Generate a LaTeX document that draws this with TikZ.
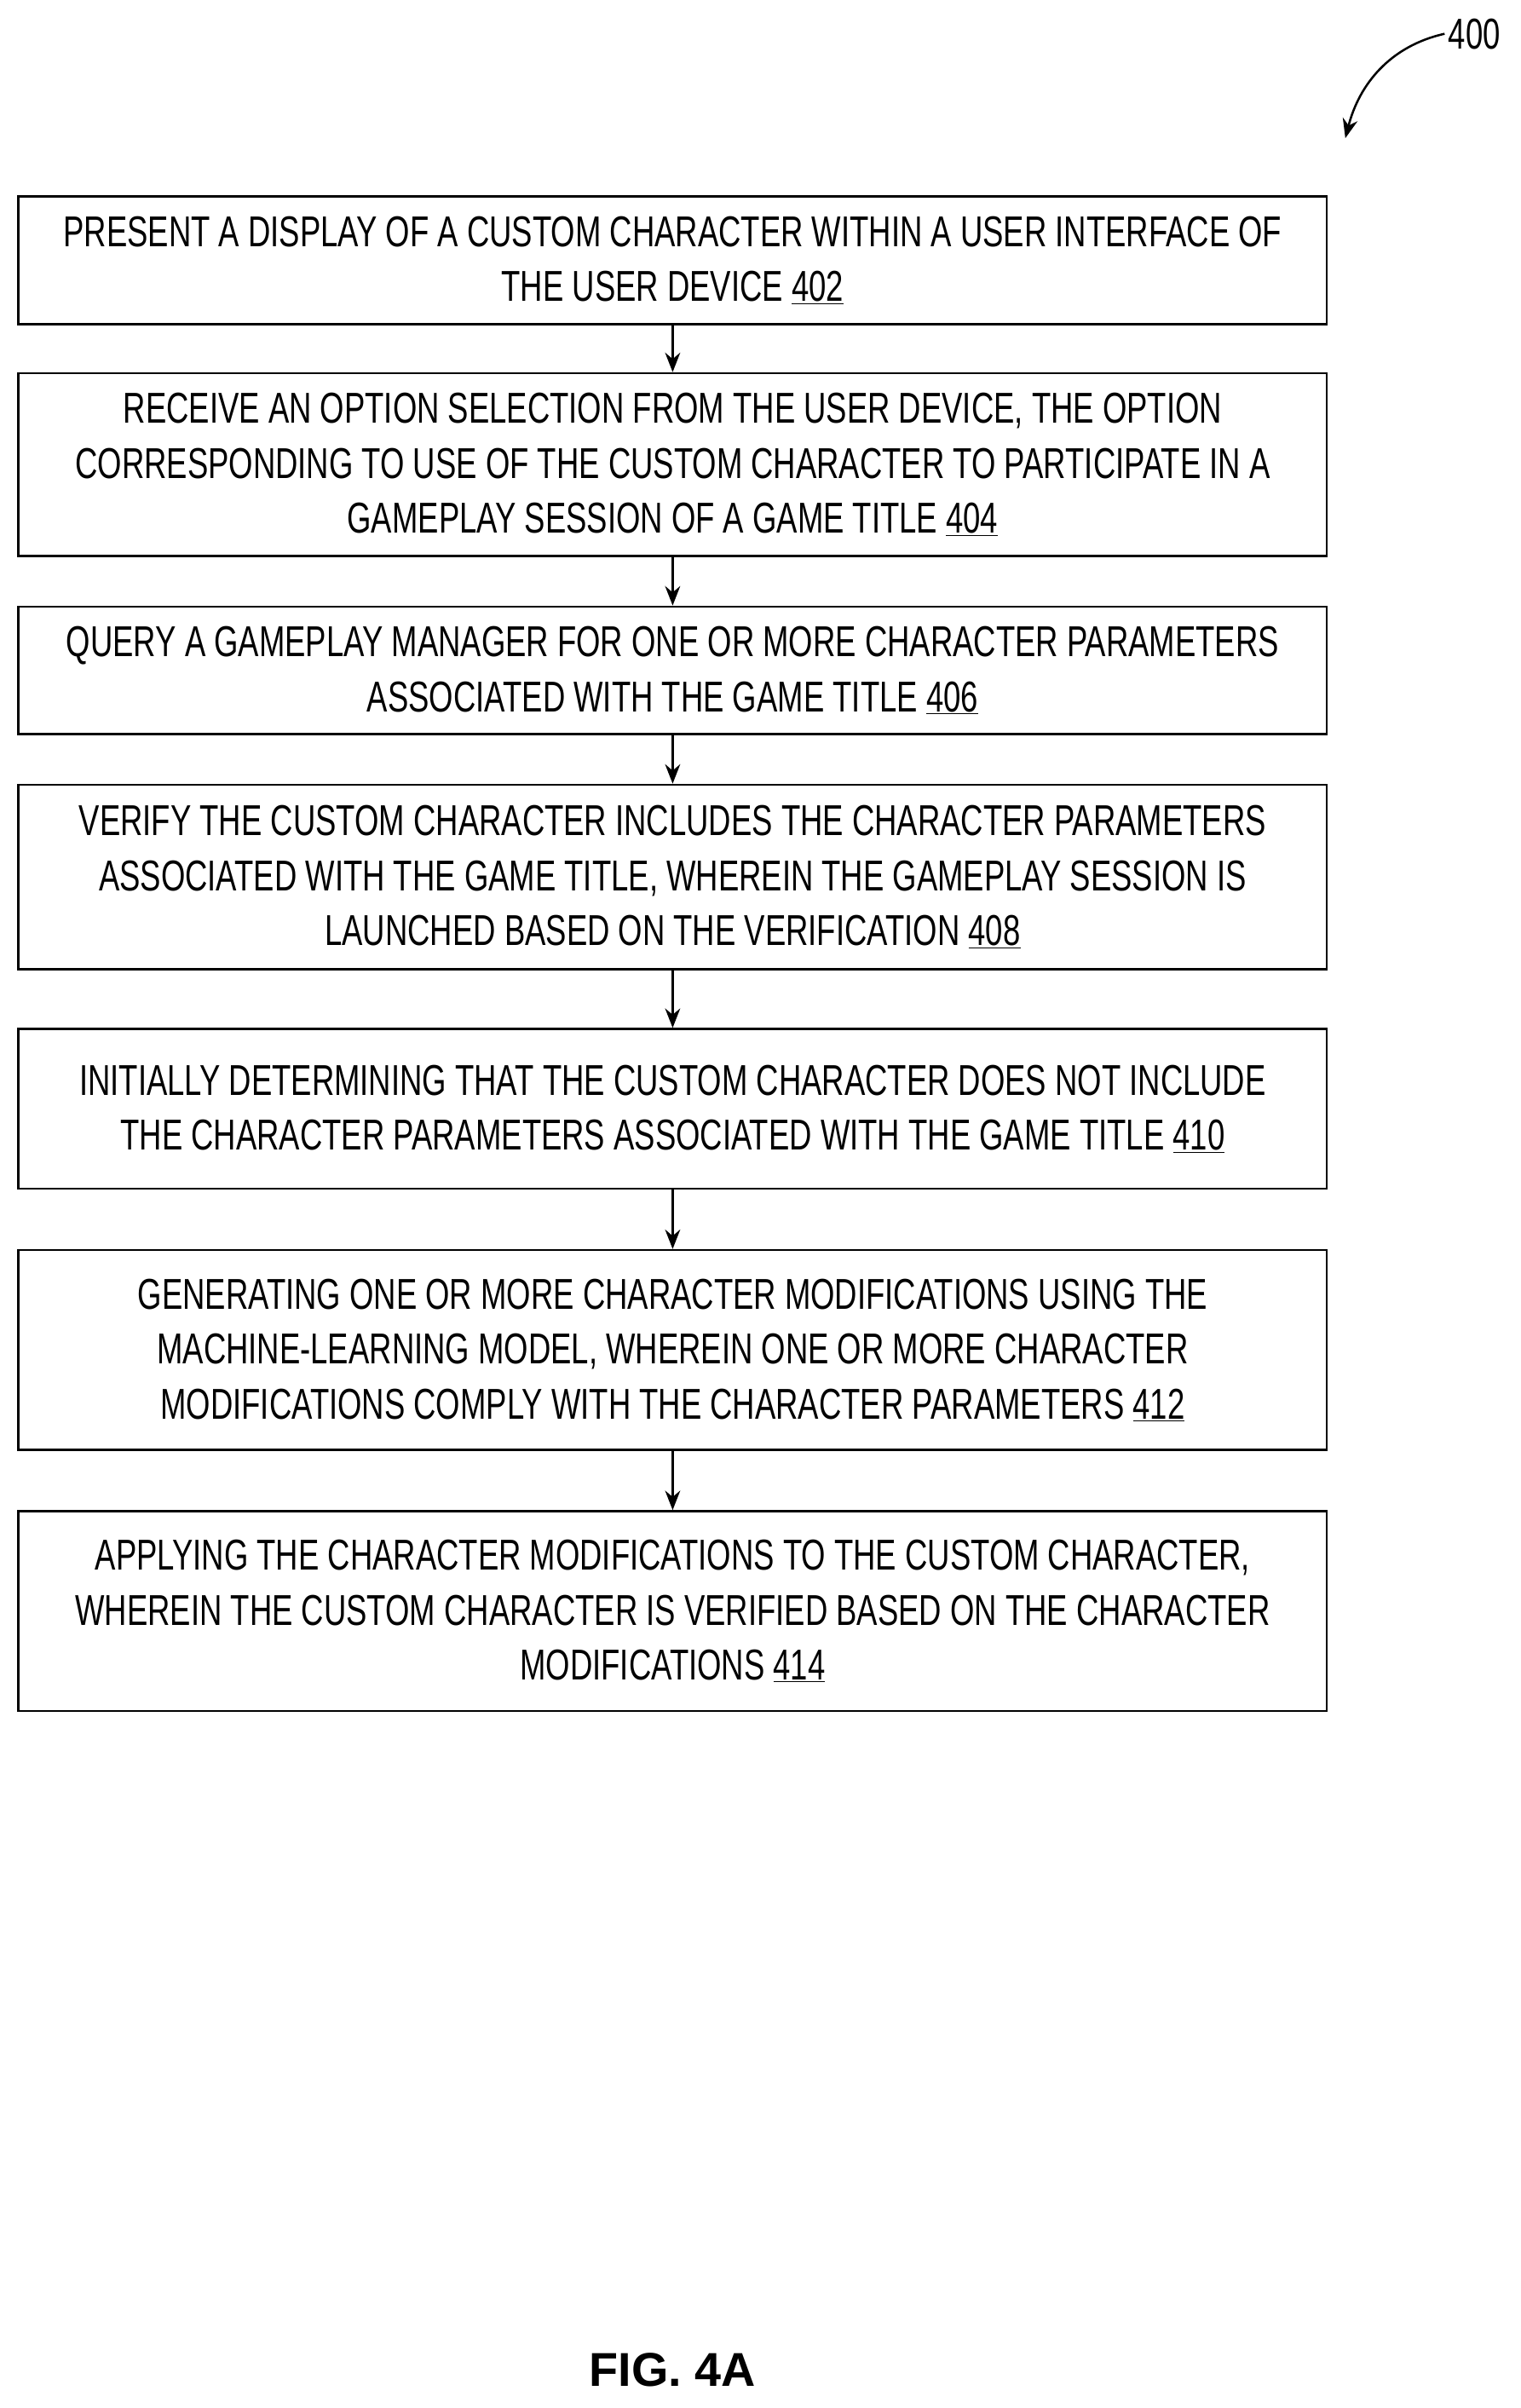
\documentclass[tikz,border=0pt]{standalone}
\usepackage{fontspec}
\setmainfont{Liberation Sans}[FakeStretch=0.72]
\newfontfamily\figfont{Liberation Sans}
\usetikzlibrary{arrows.meta}
\begin{document}
\begin{tikzpicture}[x=0.05cm,y=-0.05cm,
  stepbox/.style={draw,line width=2pt,minimum width=42.6cm,inner sep=0pt,align=center,font=\fontsize{40}{51}\selectfont},
  flow/.style={-{Stealth[length=18pt,width=14pt]},line width=2pt}]
\useasboundingbox (0,0) rectangle (990,1568);
\node[stepbox,minimum height=4.15cm] (b1) at (438,169.5) {PRESENT A DISPLAY OF A CUSTOM CHARACTER WITHIN A USER INTERFACE OF\\THE USER DEVICE \underline{402}};
\node[stepbox,minimum height=5.95cm] (b2) at (438,302.5) {RECEIVE AN OPTION SELECTION FROM THE USER DEVICE, THE OPTION\\CORRESPONDING TO USE OF THE CUSTOM CHARACTER TO PARTICIPATE IN A\\GAMEPLAY SESSION OF A GAME TITLE \underline{404}};
\node[stepbox,minimum height=4.15cm] (b3) at (438,436.5) {QUERY A GAMEPLAY MANAGER FOR ONE OR MORE CHARACTER PARAMETERS\\ASSOCIATED WITH THE GAME TITLE \underline{406}};
\node[stepbox,minimum height=6cm] (b4) at (438,571) {VERIFY THE CUSTOM CHARACTER INCLUDES THE CHARACTER PARAMETERS\\ASSOCIATED WITH THE GAME TITLE, WHEREIN THE GAMEPLAY SESSION IS\\LAUNCHED BASED ON THE VERIFICATION \underline{408}};
\node[stepbox,minimum height=5.2cm] (b5) at (438,722) {INITIALLY DETERMINING THAT THE CUSTOM CHARACTER DOES NOT INCLUDE\\THE CHARACTER PARAMETERS ASSOCIATED WITH THE GAME TITLE \underline{410}};
\node[stepbox,minimum height=6.5cm] (b6) at (438,879) {GENERATING ONE OR MORE CHARACTER MODIFICATIONS USING THE\\MACHINE-LEARNING MODEL, WHEREIN ONE OR MORE CHARACTER\\MODIFICATIONS COMPLY WITH THE CHARACTER PARAMETERS \underline{412}};
\node[stepbox,minimum height=6.5cm] (b7) at (438,1049) {APPLYING THE CHARACTER MODIFICATIONS TO THE CUSTOM CHARACTER,\\WHEREIN THE CUSTOM CHARACTER IS VERIFIED BASED ON THE CHARACTER\\MODIFICATIONS \underline{414}};
\foreach \a/\b in {b1/b2,b2/b3,b3/b4,b4/b5,b5/b6,b6/b7}
  \draw[flow] (\a.south) -- (\b.north);
\node[font=\fontsize{40}{48}\selectfont] (lbl) at (960,22) {400};
\coordinate (tip) at (876,90);
\draw[flow] (lbl.west) .. controls (905,30) and (885,55) .. (tip);
\node[font=\figfont\bfseries\fontsize{44}{50}\selectfont] (fig) at (438,1543) {FIG. 4A};
\end{tikzpicture}
\end{document}
